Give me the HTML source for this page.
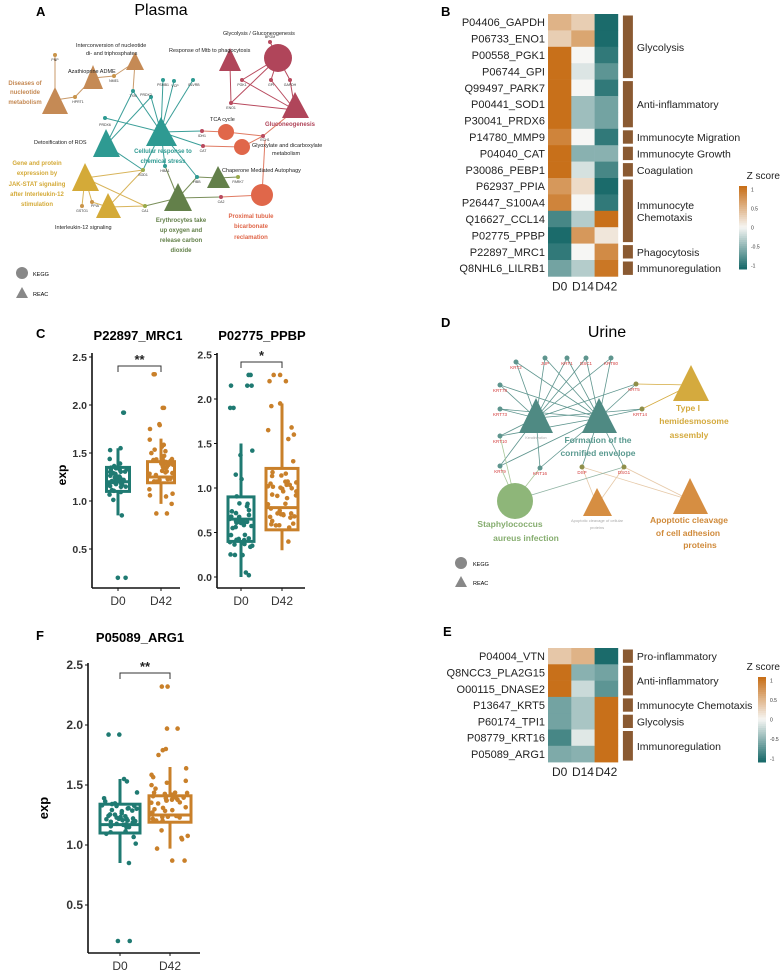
<!DOCTYPE html>
<html><head><meta charset="utf-8"><style>
html,body{margin:0;padding:0;background:#fff;}
svg{display:block;font-family:"Liberation Sans",Arial,sans-serif;}
</style></head><body>
<svg id="s" width="783" height="975" viewBox="0 0 783 975" xmlns="http://www.w3.org/2000/svg">
<rect width="783" height="975" fill="#fff"/>
<!-- Panel A -->
<text x="36" y="16" font-size="13" font-weight="bold">A</text>
<text x="161" y="15" font-size="16" text-anchor="middle">Plasma</text>
<g stroke-width="1" fill="none">
<g stroke="#3a9e98">
<line x1="161" y1="132" x2="133" y2="91"/><line x1="161" y1="132" x2="151" y2="97"/><line x1="161" y1="132" x2="163" y2="80"/><line x1="161" y1="132" x2="174" y2="81"/><line x1="161" y1="132" x2="193" y2="80"/><line x1="161" y1="132" x2="105" y2="118"/><line x1="161" y1="132" x2="202" y2="131"/><line x1="161" y1="132" x2="203" y2="146"/><line x1="161" y1="132" x2="165" y2="166"/><line x1="161" y1="132" x2="197" y2="177"/><line x1="161" y1="132" x2="143" y2="170"/><line x1="106" y1="145" x2="133" y2="91"/><line x1="106" y1="145" x2="151" y2="97"/><line x1="106" y1="145" x2="143" y2="170"/>
</g>
<g stroke="#b84a5e">
<line x1="278" y1="58" x2="270" y2="42"/><line x1="278" y1="58" x2="242" y2="80"/><line x1="278" y1="58" x2="271" y2="80"/><line x1="278" y1="58" x2="290" y2="80"/><line x1="278" y1="58" x2="231" y2="103"/><line x1="295" y1="110" x2="242" y2="80"/><line x1="295" y1="110" x2="271" y2="80"/><line x1="295" y1="110" x2="290" y2="80"/><line x1="295" y1="110" x2="231" y2="103"/><line x1="230" y1="65" x2="231" y2="103"/>
</g>
<g stroke="#e07a62">
<line x1="226" y1="132" x2="202" y2="131"/><line x1="226" y1="132" x2="263" y2="136"/><line x1="242" y1="147" x2="203" y2="146"/><line x1="242" y1="147" x2="263" y2="136"/><line x1="262" y1="195" x2="221" y2="197"/><line x1="262" y1="195" x2="265" y2="140"/><line x1="263" y1="136" x2="295" y2="110"/>
</g>
<g stroke="#7a8f5a">
<line x1="178" y1="198" x2="145" y2="206"/><line x1="178" y1="198" x2="221" y2="197"/><line x1="178" y1="198" x2="165" y2="166"/><line x1="178" y1="198" x2="197" y2="177"/><line x1="218" y1="178" x2="197" y2="177"/><line x1="218" y1="178" x2="238" y2="177"/>
</g>
<g stroke="#d8b45a">
<line x1="85" y1="178" x2="143" y2="170"/><line x1="85" y1="178" x2="145" y2="206"/><line x1="85" y1="178" x2="92" y2="202"/><line x1="85" y1="178" x2="82" y2="206"/><line x1="108" y1="207" x2="143" y2="170"/><line x1="108" y1="207" x2="145" y2="206"/><line x1="108" y1="207" x2="92" y2="202"/>
</g>
<g stroke="#c99a6a">
<line x1="55" y1="100" x2="55" y2="55"/><line x1="55" y1="100" x2="75" y2="97"/><line x1="93" y1="78" x2="75" y2="97"/><line x1="93" y1="78" x2="114" y2="76"/><line x1="135" y1="62" x2="114" y2="76"/><line x1="135" y1="62" x2="133" y2="91"/>
</g>
</g>
<!-- A nodes -->
<circle cx="278" cy="58" r="14" fill="#b0455a"/>
<polygon points="230,48 219,71 241,71" fill="#b0455a"/>
<polygon points="295,92 282,118 309,118" fill="#b0455a"/>
<circle cx="226" cy="132" r="8" fill="#e0674a"/>
<circle cx="242" cy="147" r="8" fill="#e0674a"/>
<circle cx="262" cy="195" r="11" fill="#e0674a"/>
<polygon points="218,166 207,188 230,188" fill="#63804a"/>
<polygon points="178,183 164,211 192,211" fill="#63804a"/>
<polygon points="161,117 146,146 177,146" fill="#2e9a92"/>
<polygon points="106,129 93,157 120,157" fill="#2e9a92"/>
<polygon points="85,163 72,191 99,191" fill="#d4aa38"/>
<polygon points="108,193 96,218 121,218" fill="#d4aa38"/>
<polygon points="55,87 42,114 68,114" fill="#c58a55"/>
<polygon points="93,65 83,89 103,89" fill="#c58a55"/>
<polygon points="135,52 126,70 144,70" fill="#c58a55"/>
<g fill="#b84a5e"><circle cx="270" cy="42" r="2"/><circle cx="242" cy="80" r="2"/><circle cx="271" cy="80" r="2"/><circle cx="290" cy="80" r="2"/><circle cx="231" cy="103" r="2"/><circle cx="202" cy="131" r="2"/><circle cx="203" cy="146" r="2"/><circle cx="263" cy="136" r="2"/><circle cx="221" cy="197" r="2"/></g>
<g fill="#2e9a92"><circle cx="133" cy="91" r="2"/><circle cx="151" cy="97" r="2"/><circle cx="163" cy="80" r="2"/><circle cx="174" cy="81" r="2"/><circle cx="193" cy="80" r="2"/><circle cx="105" cy="118" r="2"/><circle cx="165" cy="166" r="2"/><circle cx="197" cy="177" r="2"/></g>
<g fill="#9aaa4a"><circle cx="143" cy="170" r="2"/><circle cx="238" cy="177" r="2"/><circle cx="145" cy="206" r="2"/></g>
<g fill="#c9944a"><circle cx="55" cy="55" r="2"/><circle cx="75" cy="97" r="2"/><circle cx="114" cy="76" r="2"/><circle cx="92" cy="202" r="2"/><circle cx="82" cy="206" r="2"/></g>
<g font-size="3.5" fill="#333" text-anchor="middle">
<text x="270" y="38">BPGM</text><text x="242" y="86">PGK1</text><text x="271" y="86">GPI</text><text x="290" y="86">GAPDH</text><text x="231" y="109">ENO1</text><text x="202" y="137">IDH1</text><text x="203" y="152">CAT</text><text x="265" y="141">ECH1</text><text x="221" y="203">CA2</text><text x="133" y="97">TXN</text><text x="146" y="96">PRDX2</text><text x="163" y="86">PSMB1</text><text x="175" y="87">VCP</text><text x="194" y="86">BLVRB</text><text x="105" y="126">PRDX6</text><text x="165" y="172">HBA1</text><text x="197" y="183">HBB</text><text x="238" y="183">PARK7</text><text x="143" y="176">SOD1</text><text x="145" y="212">CA1</text><text x="55" y="61">PNP</text><text x="78" y="103">HPRT1</text><text x="114" y="82">NME1</text><text x="95" y="207">PPIA</text><text x="82" y="212">GSTO1</text>
</g>
<g font-size="5.5" fill="#222">
<text x="223" y="35">Glycolysis / Gluconeogenesis</text>
<text x="169" y="52">Response of Mtb to phagocytosis</text>
<text x="76" y="47">Interconversion of nucleotide</text>
<text x="86" y="55">di- and triphosphates</text>
<text x="68" y="73">Azathioprine ADME</text>
<text x="210" y="121">TCA cycle</text>
<text x="252" y="147">Glyoxylate and dicarboxylate</text>
<text x="272" y="155">metabolism</text>
<text x="34" y="144">Detoxification of ROS</text>
<text x="222" y="172">Chaperone Mediated Autophagy</text>
<text x="55" y="229">Interleukin-12 signaling</text>
</g>
<g font-size="6" font-weight="bold">
<text x="265" y="126" fill="#b0455a">Gluconeogenesis</text>
<g fill="#c58a55" text-anchor="middle"><text x="25" y="85">Diseases of</text><text x="25" y="94">nucleotide</text><text x="25" y="104">metabolism</text></g>
<g fill="#2e9a92" text-anchor="middle"><text x="163" y="153">Cellular response to</text><text x="163" y="163">chemical stress</text></g>
<g fill="#d4aa38" text-anchor="middle"><text x="37" y="165">Gene and protein</text><text x="37" y="175">expression by</text><text x="37" y="186">JAK-STAT signaling</text><text x="37" y="196">after Interleukin-12</text><text x="37" y="206">stimulation</text></g>
<g fill="#63804a" text-anchor="middle"><text x="181" y="222">Erythrocytes take</text><text x="181" y="232">up oxygen and</text><text x="181" y="242">release carbon</text><text x="181" y="252">dioxide</text></g>
<g fill="#e0674a" text-anchor="middle"><text x="251" y="218">Proximal tubule</text><text x="251" y="228">bicarbonate</text><text x="251" y="239">reclamation</text></g>
</g>
<circle cx="22" cy="273" r="6" fill="#888"/><text x="33" y="276" font-size="5.5">KEGG</text>
<polygon points="22,287 16,298 28,298" fill="#888"/><text x="33" y="296" font-size="5.5">REAC</text>

<!-- Panel B -->
<text x="441" y="16" font-size="13" font-weight="bold">B</text>
<g id="hmB"></g>
<!-- Panel C -->
<text x="36" y="338" font-size="13" font-weight="bold">C</text>
<text x="138" y="340" font-size="13" font-weight="bold" text-anchor="middle">P22897_MRC1</text>
<text x="262" y="340" font-size="13" font-weight="bold" text-anchor="middle">P02775_PPBP</text>
<g id="bxC"></g>
<!-- Panel D -->
<text x="441" y="327" font-size="13" font-weight="bold">D</text>
<text x="607" y="337" font-size="16" text-anchor="middle">Urine</text>
<g stroke-width="0.8" fill="none" stroke="#5e958e">
<g id="dEdges"></g>
</g>
<polygon points="536,398 519,433 553,433" fill="#4f8a83"/>
<polygon points="599,398 582,433 617,433" fill="#4f8a83"/>
<polygon points="691,365 673,401 709,401" fill="#d4aa3e"/>
<circle cx="515" cy="501" r="18" fill="#8eb679"/>
<polygon points="597,488 583,516 612,516" fill="#d68e42"/>
<polygon points="690,478 673,514 708,514" fill="#d68e42"/>
<g id="dNodes"></g>
<text x="536" y="439" font-size="3.5" fill="#aaa" text-anchor="middle">Keratinization</text>
<g font-size="8.5" font-weight="bold" text-anchor="middle">
<g fill="#5a9a90"><text x="598" y="443">Formation of the</text><text x="598" y="456">cornified envelope</text></g>
<g fill="#d4aa3e"><text x="688" y="411">Type I</text><text x="694" y="424">hemidesmosome</text><text x="689" y="438">assembly</text></g>
<g fill="#86ad6f"><text x="510" y="527">Staphylococcus</text><text x="526" y="541">aureus infection</text></g>
<g fill="#d08a3a"><text x="689" y="523">Apoptotic cleavage</text><text x="688" y="536">of cell adhesion</text><text x="700" y="548">proteins</text></g>
</g>
<text x="597" y="522" font-size="4" fill="#aaa" text-anchor="middle">Apoptotic cleavage of cellular</text>
<text x="597" y="529" font-size="4" fill="#aaa" text-anchor="middle">proteins</text>
<circle cx="461" cy="563" r="6" fill="#888"/><text x="473" y="566" font-size="5.5">KEGG</text>
<polygon points="461,576 455,587 467,587" fill="#888"/><text x="473" y="585" font-size="5.5">REAC</text>
<!-- Panel E -->
<text x="443" y="636" font-size="13" font-weight="bold">E</text>
<g id="hmE"></g>
<!-- Panel F -->
<text x="36" y="640" font-size="13" font-weight="bold">F</text>
<text x="140" y="642" font-size="13" font-weight="bold" text-anchor="middle">P05089_ARG1</text>
<g id="bxF"></g>
</svg>
<script>
var NS="http://www.w3.org/2000/svg";
function el(p,t,a,txt){var e=document.createElementNS(NS,t);for(var k in a)e.setAttribute(k,a[k]);if(txt!=null)e.textContent=txt;p.appendChild(e);return e;}
var OR=[200,112,26],TE=[27,107,107],WH=[246,246,244];
function col(v){var c=v>0?OR:TE,t=Math.min(1,Math.abs(v));var r=[0,1,2].map(function(i){return Math.round(WH[i]+t*(c[i]-WH[i]));});return "rgb("+r.join(",")+")";}
function heat(g,x0,y0,rh,cw,rows,groups,leg){
 rows.forEach(function(r,i){
  for(var j=0;j<3;j++)el(g,"rect",{x:x0+j*cw,y:y0+i*rh,width:cw+0.3,height:rh+0.3,fill:col(r[1][j])});
  el(g,"text",{x:x0-3,y:y0+i*rh+rh/2+4,"font-size":11,"text-anchor":"end",fill:"#222"},r[0]);
 });
 ["D0","D14","D42"].forEach(function(l,j){el(g,"text",{x:x0+j*cw+cw/2,y:y0+rows.length*rh+14,"font-size":12,"text-anchor":"middle",fill:"#222"},l);});
 groups.forEach(function(gr){
  var y1=y0+gr[0]*rh+1.5,y2=y0+(gr[1]+1)*rh-1.5;
  el(g,"rect",{x:x0+3*cw+5,y:y1,width:10,height:y2-y1,fill:"#8a5a32"});
  var lines=gr[2].split("|");var cy=(y1+y2)/2-(lines.length-1)*6;
  lines.forEach(function(l,k){el(g,"text",{x:x0+3*cw+19,y:cy+k*12+4,"font-size":10.5,fill:"#222"},l);});
 });
 var lx=leg[0],ly=leg[1],lh=leg[2];
 el(g,"text",{x:780,y:ly-7,"font-size":10,"text-anchor":"end",fill:"#222"},"Z score");
 for(var k=0;k<40;k++){var v=1-2*k/39;el(g,"rect",{x:lx,y:ly+k*lh/40,width:8,height:lh/40+0.5,fill:col(v)});}
 [[1,"1"],[0.5,"0.5"],[0,"0"],[-0.5,"-0.5"],[-1,"-1"]].forEach(function(t){var yy=ly+(1-t[0])/2*lh*0.92+lh*0.04;el(g,"text",{x:lx+12,y:yy+2,"font-size":5,fill:"#333"},t[1]);});
}
heat(document.getElementById("hmB"),548,14,16.4,23.3,[
["P04406_GAPDH",[0.5,0.3,-1]],["P06733_ENO1",[0.3,0.6,-1]],["P00558_PGK1",[1,0,-0.9]],["P06744_GPI",[1,-0.12,-0.7]],
["Q99497_PARK7",[1,0,-0.9]],["P00441_SOD1",[1,-0.4,-0.6]],["P30041_PRDX6",[1,-0.4,-0.6]],["P14780_MMP9",[0.85,0,-0.9]],
["P04040_CAT",[1,-0.5,-0.5]],["P30086_PEBP1",[1,-0.15,-0.8]],["P62937_PPIA",[0.7,0.2,-1]],["P26447_S100A4",[0.85,0,-0.9]],
["Q16627_CCL14",[-0.8,-0.3,1]],["P02775_PPBP",[-1,0.7,0.12]],["P22897_MRC1",[-0.9,0,0.8]],["Q8NHL6_LILRB1",[-0.6,-0.3,0.95]]],
[[0,3,"Glycolysis"],[4,6,"Anti-inflammatory"],[7,7,"Immunocyte Migration"],[8,8,"Immunocyte Growth"],[9,9,"Coagulation"],[10,13,"Immunocyte|Chemotaxis"],[14,14,"Phagocytosis"],[15,15,"Immunoregulation"]],
[739,186,83]);
heat(document.getElementById("hmE"),548,648,16.3,23.3,[
["P04004_VTN",[0.35,0.5,-1]],["Q8NCC3_PLA2G15",[1,-0.5,-0.6]],["O00115_DNASE2",[1,-0.2,-0.7]],["P13647_KRT5",[-0.6,-0.35,1]],
["P60174_TPI1",[-0.6,-0.35,1]],["P08779_KRT16",[-0.8,-0.1,1]],["P05089_ARG1",[-0.55,-0.5,1]]],
[[0,0,"Pro-inflammatory"],[1,2,"Anti-inflammatory"],[3,3,"Immunocyte Chemotaxis"],[4,4,"Glycolysis"],[5,6,"Immunoregulation"]],
[758,677,85]);
var seed=7;function rnd(){seed=(seed*16807)%2147483647;return (seed-1)/2147483646;}
function gen(n,lo,hi,extra){var a=[];for(var i=0;i<n;i++){var u=(rnd()+rnd()+rnd())/3;a.push(lo+(hi-lo)*u);}return a.concat(extra);}
var TEAL="#1f7a72",ORG="#c9802a";
var mrcD0=gen(42,0.95,1.5,[1.92,1.92,0.2,0.2,0.85,1.53,1.55]);
var mrcD42=gen(42,1.0,1.7,[0.87,0.87,0.97,1.97,1.97,2.32,2.32,1.79,1.8,1.75]);
var ppD0=gen(40,0.0,1.0,[2.27,2.27,2.15,2.15,2.15,1.9,1.9,1.42,1.37,1.15,1.1,0.02,0.05]);
var ppD42=gen(40,0.3,1.4,[2.27,2.27,2.2,2.2,1.95,1.92,1.68,1.65,1.6,1.55,1.3]);
function box(g,ax,ay0,ay1,axEnd,ticks,vy,groups,star,brY,font){
 el(g,"line",{x1:ax,y1:ay0,x2:ax,y2:ay1,stroke:"#111","stroke-width":1.6});
 el(g,"line",{x1:ax,y1:ay1,x2:axEnd,y2:ay1,stroke:"#111","stroke-width":1.6});
 ticks.forEach(function(t){var y=vy(t);el(g,"line",{x1:ax-3,y1:y,x2:ax,y2:y,stroke:"#111"});el(g,"text",{x:ax-5,y:y+4,"font-size":font,"font-weight":"bold","text-anchor":"end",fill:"#333"},t.toFixed(1));});
 groups.forEach(function(gr){
  var cx=gr.x,c=gr.c,hw=gr.w/2;
  el(g,"line",{x1:cx,y1:vy(gr.wl),x2:cx,y2:vy(gr.wh),stroke:c,"stroke-width":3});
  el(g,"rect",{x:cx-hw,y:vy(gr.q3),width:gr.w,height:vy(gr.q1)-vy(gr.q3),fill:"#fff",stroke:c,"stroke-width":3});
  el(g,"line",{x1:cx-hw,y1:vy(gr.md),x2:cx+hw,y2:vy(gr.md),stroke:c,"stroke-width":3});
  gr.d.forEach(function(v){el(g,"circle",{cx:cx+(rnd()-0.5)*gr.w*0.9,cy:vy(v),r:2.3,fill:c});});
  el(g,"line",{x1:cx,y1:ay1,x2:cx,y2:ay1+3,stroke:"#111"});
  el(g,"text",{x:cx,y:ay1+17,"font-size":12,"text-anchor":"middle",fill:"#333"},gr.l);
 });
 var x1=groups[0].x,x2=groups[1].x;
 el(g,"path",{d:"M"+x1+","+(brY+6)+"V"+brY+"H"+x2+"V"+(brY+6),fill:"none",stroke:"#333","stroke-width":1});
 el(g,"text",{x:(x1+x2)/2,y:brY-2,"font-size":13,"font-weight":"bold","text-anchor":"middle",fill:"#222"},star);
}
var gC=document.getElementById("bxC");
el(gC,"text",{x:66,y:475,"font-size":12,"font-weight":"bold","text-anchor":"middle",transform:"rotate(-90 66 475)"},"exp");
box(gC,92,353,588,180,[0.5,1.0,1.5,2.0,2.5],function(v){return 501-(v-1)*96;},[
 {x:118,c:TEAL,w:23,q1:1.1,q3:1.35,md:1.2,wl:0.85,wh:1.55,d:mrcD0,l:"D0"},
 {x:161,c:ORG,w:27,q1:1.19,q3:1.41,md:1.25,wl:0.97,wh:1.65,d:mrcD42,l:"D42"}],"**",366,10.5);
box(gC,217,353,588,305,[0.0,0.5,1.0,1.5,2.0,2.5],function(v){return 577-v*89;},[
 {x:241,c:TEAL,w:26,q1:0.4,q3:0.9,md:0.65,wl:0.0,wh:1.5,d:ppD0,l:"D0"},
 {x:282,c:ORG,w:32,q1:0.53,q3:1.22,md:0.78,wl:0.3,wh:1.95,d:ppD42,l:"D42"}],"*",362,10.5);
var gF=document.getElementById("bxF");
el(gF,"text",{x:48,y:808,"font-size":13,"font-weight":"bold","text-anchor":"middle",transform:"rotate(-90 48 808)"},"exp");
box(gF,88,663,953,200,[0.5,1.0,1.5,2.0,2.5],function(v){return 845-(v-1)*120;},[
 {x:120,c:TEAL,w:40,q1:1.1,q3:1.34,md:1.17,wl:0.85,wh:1.55,d:mrcD0,l:"D0"},
 {x:170,c:ORG,w:42,q1:1.19,q3:1.41,md:1.25,wl:0.97,wh:1.65,d:mrcD42,l:"D42"}],"**",673,12);
var genes={KRT2:[516,362],JUP:[545,358],KRT1:[567,358],DSC1:[586,358],KRT80:[611,358],KRT78:[500,385],KRT5:[636,384],KRT73:[500,409],KRT14:[642,409],KRT10:[500,436],KRT9:[500,466],KRT16:[540,468],DSP:[582,467],DSG1:[624,467]};
var de=document.getElementById("dEdges");
var K=[536,418],F=[599,418];
["KRT2","JUP","KRT1","DSC1","KRT80","KRT78","KRT5","KRT73","KRT14","KRT10","KRT9","KRT16"].forEach(function(n){var p=genes[n];el(de,"line",{x1:K[0],y1:K[1],x2:p[0],y2:p[1]});el(de,"line",{x1:F[0],y1:F[1],x2:p[0],y2:p[1]});});
["DSP","DSG1"].forEach(function(n){var p=genes[n];el(de,"line",{x1:F[0],y1:F[1],x2:p[0],y2:p[1]});});
[["KRT5",691,385,"#d4aa3e"],["KRT14",691,385,"#d4aa3e"],["DSP",690,500,"#e6c9a8"],["DSG1",690,500,"#e6c9a8"],["DSP",597,505,"#e6c9a8"],["DSG1",597,505,"#e6c9a8"],["KRT9",515,500,"#a8c79a"],["KRT10",515,500,"#a8c79a"],["KRT16",515,500,"#a8c79a"],["DSG1",515,500,"#8fb3a3"]].forEach(function(e){var p=genes[e[0]];el(de,"line",{x1:p[0],y1:p[1],x2:e[1],y2:e[2],stroke:e[3]});});
var dn=document.getElementById("dNodes");
for(var n in genes){var p=genes[n];var c=(n=="DSP"||n=="DSG1"||n=="KRT5"||n=="KRT14")?"#8f8f4a":"#5e958e";el(dn,"circle",{cx:p[0],cy:p[1],r:2.5,fill:c});el(dn,"text",{x:p[0]+(n=="KRT5"||n=="KRT14"?-2:0),y:p[1]+7,"font-size":4.5,fill:"#d23a3a","text-anchor":"middle"},n);}
</script>
</body></html>
